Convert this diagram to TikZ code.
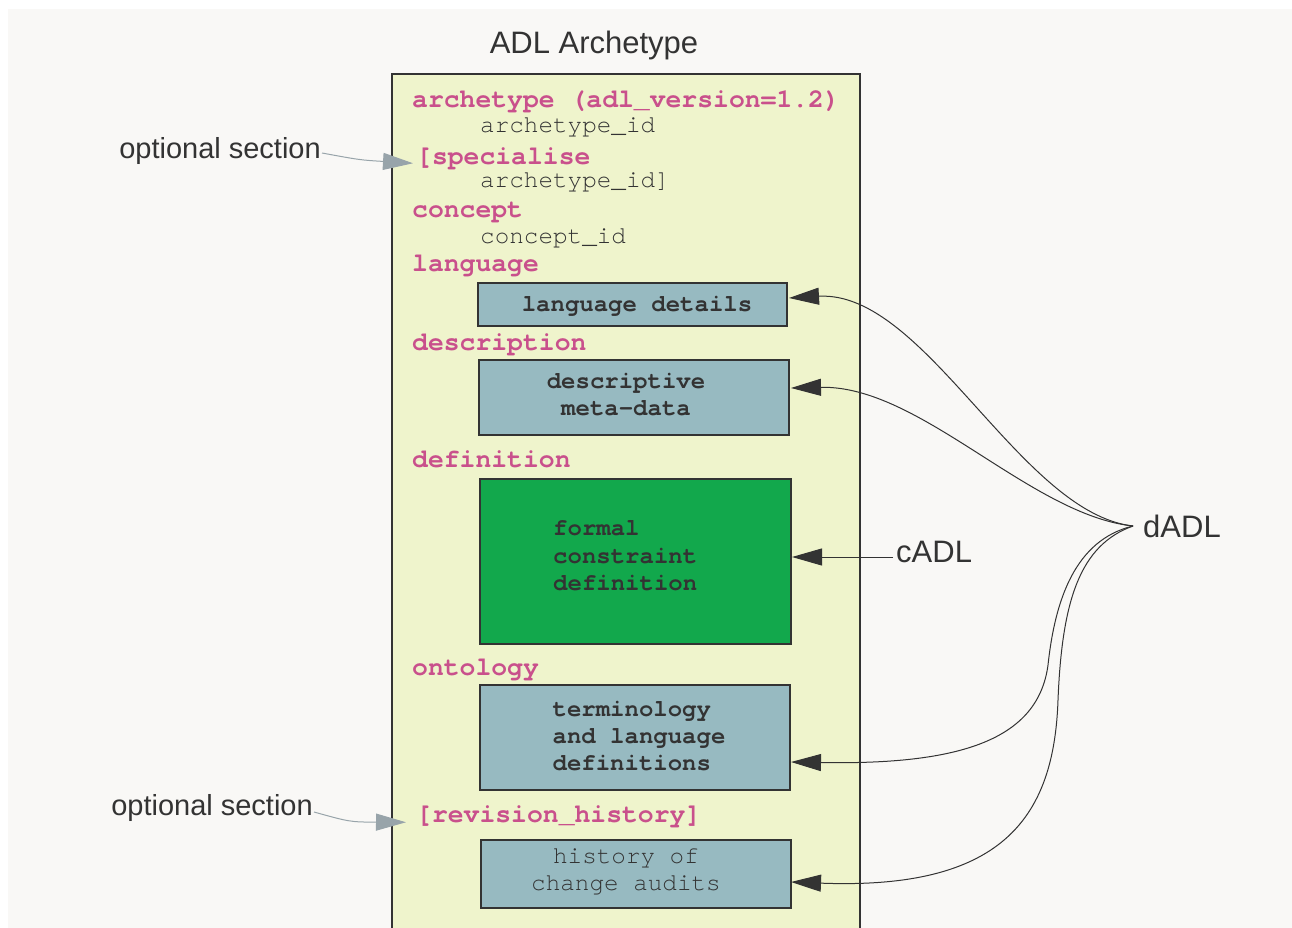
\documentclass[tikz,border=0pt]{standalone}
\usepackage{fontspec}
\setmainfont{Liberation Sans}
\newfontfamily\codefont{texgyrecursor}[Extension=.otf, UprightFont=*-regular,
  BoldFont=*-bold, Ligatures={CommonOff}]
\usetikzlibrary{arrows.meta,calc}

\definecolor{pagebg}{HTML}{F9F8F6}
\definecolor{panel}{HTML}{EFF4CC}
\definecolor{ink}{HTML}{333333}
\definecolor{keyword}{HTML}{C9508C}
\definecolor{slate}{HTML}{97BAC1}
\definecolor{leaf}{HTML}{12A84C}
\definecolor{pointer}{HTML}{98A4AA}

\tikzset{
  kw/.style={anchor=base west, inner sep=0pt, text=keyword,
    font=\codefont\bfseries\fontsize{26.4}{30}\selectfont},
  idtext/.style={anchor=base west, inner sep=0pt, text=ink,
    font=\codefont\fontsize{24.3}{27}\selectfont},
  section/.style={draw=ink, line width=2pt, inner sep=0pt},
  boxtext/.style={inner sep=0pt, text=ink, align=center,
    font=\codefont\bfseries\fontsize{24}{27}\selectfont},
  caption/.style={inner sep=0pt, text=ink, font=\fontsize{31}{36}\selectfont},
  darrow/.style={draw=ink, line width=1pt,
    -{Triangle[length=30pt,width=17pt]}},
  garrow/.style={draw=pointer, line width=1pt, fill=none,
    -{Triangle[length=30pt,width=17pt,fill=pointer]}},
}

\begin{document}
\begin{tikzpicture}[x=1pt,y=-1pt]
\useasboundingbox (0,0) rectangle (1292,928);
\fill[pagebg] (8,9) rectangle (1292,928);

% archetype panel, open at the bottom
\fill[panel] (392,74) rectangle (860,929);
\draw[ink, line width=2pt] (392,930) -- (392,74) -- (860,74) -- (860,930);

\node[caption, anchor=center] (title) at (594,45) {ADL Archetype};

% section keywords and identifiers (placed on their baselines)
\node[kw] (kArch) at (412,108) {archetype (adl\_version=1.2)};
\node[idtext] (iArch) at (480,133) {archetype\_id};
\node[kw] (kSpec) at (416,165) {[specialise};
\node[idtext] (iSpec) at (480,187) {archetype\_id]};
\node[kw] (kConc) at (412,218) {concept};
\node[idtext] (iConc) at (480,243) {concept\_id};
\node[kw] (kLang) at (412,271) {language};
\node[kw] (kDesc) at (412,350) {description};
\node[kw] (kDef) at (412,467) {definition};
\node[kw] (kOnt) at (412,675) {ontology};
\node[kw] (kRev) at (416,822) {[revision\_history]};

% section content boxes
\node[section, fill=slate, minimum width=309pt, minimum height=43pt] (lang) at (632.5,304.5) {};
\node[section, fill=slate, minimum width=310pt, minimum height=75pt] (desc) at (634,397.5) {};
\node[section, fill=leaf, minimum width=311pt, minimum height=165pt] (formal) at (635.5,561.5) {};
\node[section, fill=slate, minimum width=310pt, minimum height=105pt] (term) at (635,737.5) {};
\node[section, fill=slate, minimum width=310pt, minimum height=68pt] (hist) at (636,874) {};

\node[boxtext] (langText) at (637,306) {language details};
\node[boxtext] (descText) at (626,394.5) {descriptive\\meta-data};
\node[boxtext, anchor=west, align=left, font=\codefont\bfseries\fontsize{24}{27.5}\selectfont]
  (formalText) at (553,556) {formal\\constraint\\definition};
\node[boxtext, align=left] (termText) at (639,736.5) {terminology\\and language\\definitions};
\node[boxtext, font=\codefont\fontsize{24.3}{27}\selectfont] (histText) at (626,872) {history of\\change audits};

% side labels
\node[caption, anchor=east, font=\fontsize{29}{34}\selectfont] (opt1) at (321,151) {optional section};
\node[caption, anchor=east, font=\fontsize{29}{34}\selectfont] (opt2) at (313,808) {optional section};
\node[caption, anchor=west] (cadl) at (896,552) {cADL};
\node[caption, anchor=west] (dadl) at (1143,526) {dADL};

\coordinate (cadlFoot) at (893,557);
\coordinate (hub) at (1133,526);

% optional-section pointers
\draw[garrow] ($(opt1.east)+(1,2)$) .. controls (360,160) .. ($(kSpec.west)+(-3,4)$);
\draw[garrow] ($(opt2.east)+(1,4)$) .. controls (350,822) .. ($(kRev.west)+(-10,6)$);

% cADL reference
\draw[darrow] (cadlFoot) -- (cadlFoot -| formal.east);

% dADL references
\draw[darrow] (hub) .. controls (1020,513) and (925,290) .. ($(lang.east)+(1,-6.5)$);
\draw[darrow] (hub) .. controls (1030,515) and (920,385) .. ($(desc.east)+(1,-9.5)$);
\draw[darrow] (hub) .. controls (1075,540) and (1055,600) .. (1048,665)
  .. controls (1038,740) and (960,765) .. ($(term.east)+(0,24.5)$);
\draw[darrow] (hub) .. controls (1080,545) and (1062,600) .. (1058,700)
  .. controls (1054,820) and (1000,890) .. ($(hist.east)+(-1,8)$);
\end{tikzpicture}
\end{document}
